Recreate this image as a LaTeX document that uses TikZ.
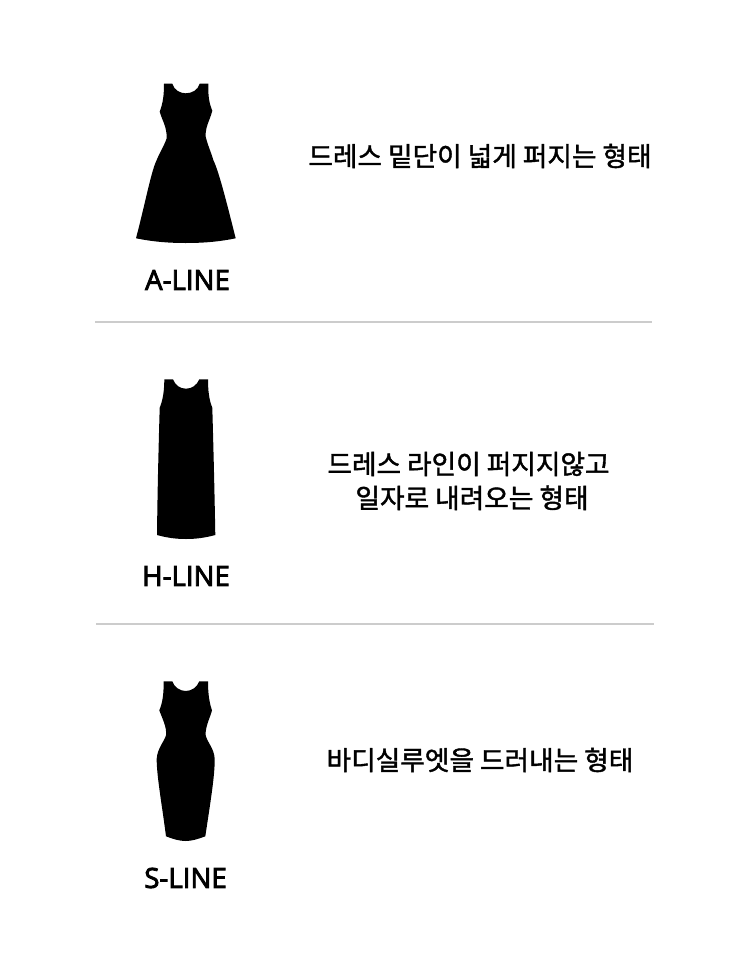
\documentclass[tikz,border=0pt]{standalone}
\usepackage{fontspec}
\setmainfont{Open Sans}
\newfontfamily\capfont{Open Sans}[RawFeature={embolden=3}]
\newfontfamily\krfont{Noto Sans CJK KR}[RawFeature={embolden=1.5}]
\usetikzlibrary{positioning}
\definecolor{rulegray}{HTML}{CCCCCC}

\begin{document}
\begin{tikzpicture}[x=1pt,y=-1pt,
     dress/.style={fill=black},
     divider/.style={draw=rulegray, line width=2pt},
     caption/.style={inner sep=0pt, font=\fontsize{27.7}{32}\selectfont\capfont},
     remark/.style={inner sep=0pt, align=center, font=\fontsize{26.7}{34}\selectfont\krfont}]
     \useasboundingbox (0,0) rectangle (750,966);
     % A-LINE
     \fill[dress] (164,83.7)--(172.3,83.7) .. controls (174,90) and (180,93.3) .. (185.7,93.3)
          .. controls (192,93.3) and (198,90) .. (199.7,83.7)--(208.3,83.7)
          .. controls (208,95) and (209,103) .. (212.3,110.7)
          .. controls (210,120) and (205,127) .. (205.7,136.7)
          .. controls (208,146) and (211,152) .. (213.3,160)
          .. controls (219,172) and (226,200) .. (235.7,238.3)
          .. controls (220,241.5) and (205,243) .. (185.7,243)
          .. controls (167,243) and (152,241.5) .. (136,238.3)
          .. controls (146,200) and (151,172) .. (156.7,160)
          .. controls (160,152) and (164,146) .. (166.7,138.3)
          .. controls (167,127) and (162,120) .. (159.7,111.7)
          .. controls (163,103) and (164,95) .. (164,83.7)--cycle;
     \node[caption] (aline) at (187.5,280) {A-LINE};
     \node[remark] (atext) at (480,156) {드레스 밑단이 넓게 퍼지는 형태};
     \coordinate (r1a) at (95,322);
     \coordinate (r1b) at (652,322);
     \draw[divider] (r1a)--(r1b);
     % H-LINE
     \fill[dress] (164.3,379.3)--(173,379.3) .. controls (175,385) and (180,388.7) .. (186,388.7)
          .. controls (192,388.7) and (197,385) .. (199.3,379.3)--(208,379.3)
          .. controls (208,390) and (209,400) .. (212.3,407.7)
          .. controls (213.5,450) and (214.5,490) .. (215.3,535)
          .. controls (206,537.5) and (197,539) .. (186,539)
          .. controls (175,539) and (166,537.5) .. (157,535)
          .. controls (157.5,490) and (158.5,450) .. (159.7,407.7)
          .. controls (163,400) and (164.3,390) .. (164.3,379.3)--cycle;
     \node[caption] (hline) at (186,576) {H-LINE};
     \node[remark] (htext) at (468.5,481) {드레스 라인이 퍼지지않고\\\hspace*{7pt}일자로 내려오는 형태};
     \coordinate (r2a) at (96,624);
     \coordinate (r2b) at (654,624);
     \draw[divider] (r2a)--(r2b);
     % S-LINE
     \fill[dress] (163.7,681.3)--(172.3,681.3) .. controls (174,687) and (180,691) .. (185.7,691)
          .. controls (192,691) and (197,687) .. (199.3,681.3)--(208,681.3)
          .. controls (208,692) and (209,702) .. (212,710.3)
          .. controls (210,718) and (205,727) .. (205.7,735.3)
          .. controls (207,742) and (214,748) .. (214.7,758.7)
          .. controls (215,775) and (210,805) .. (205.3,836.3)
          .. controls (198,839) and (192,841) .. (185.7,841)
          .. controls (179,841) and (173,839) .. (166,836.3)
          .. controls (162,805) and (156.5,775) .. (156.7,758.7)
          .. controls (157.5,748) and (164,742) .. (166,735.3)
          .. controls (167,727) and (162,718) .. (159.3,710.3)
          .. controls (163,702) and (163.7,692) .. (163.7,681.3)--cycle;
     \node[caption] (sline) at (185.5,878) {S-LINE};
     \node[remark] (stext) at (480,760) {바디실루엣을 드러내는 형태};
\end{tikzpicture}
\end{document}
